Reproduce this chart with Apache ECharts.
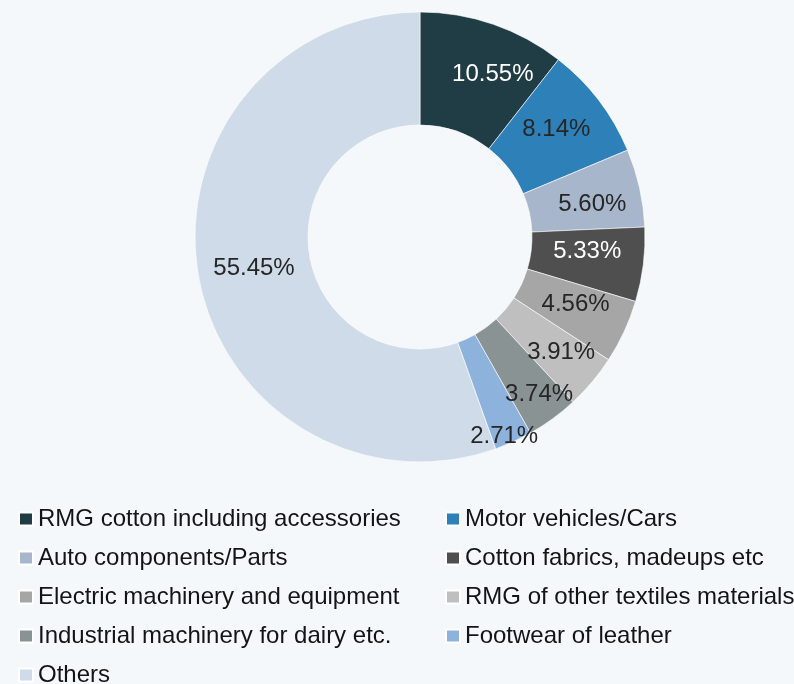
<!DOCTYPE html>
<html>
<head>
<meta charset="utf-8">
<script src="https://cdn.jsdelivr.net/npm/echarts@6/dist/echarts.min.js"></script>
<style>
html,body{margin:0;padding:0;background:#f5f8fa;}
#chart{width:794px;height:684px;}
</style>
</head>
<body>
<div id="chart"></div>
<script>
var categories = [
  "RMG cotton including accessories",
  "Motor vehicles/Cars",
  "Auto components/Parts",
  "Cotton fabrics, madeups etc",
  "Electric machinery and equipment",
  "RMG of other textiles materials",
  "Industrial machinery for dairy etc.",
  "Footwear of leather",
  "Others"
];
var shares = [10.55, 8.14, 5.60, 5.33, 4.56, 3.91, 3.74, 2.71, 55.45];
var legendLeft = [categories[0], categories[2], categories[4], categories[6], categories[8]];
var legendRight = [categories[1], categories[3], categories[5], categories[7]];

var colors = ["#203d45", "#2e80b9", "#a7b6ca", "#4f4f4f", "#a6a6a6", "#bfbfbf", "#8a9393", "#8db3dd", "#cfdbe9"];
var labelColors = ["#ffffff", "#262626", "#262626", "#ffffff", "#262626", "#262626", "#262626", "#262626", "#262626"];
// label nudges (style only), in pixels
var labelNudge = [[17, 0], [0, -4], [5, 5], [-3, -7], [0, -5], [10, 5], [18, 19], [13, 43], [3, 2]];

var chart = echarts.init(document.getElementById('chart'), null, {renderer: 'canvas'});
var legendCommon = {
  orient: 'vertical',
  itemWidth: 14,
  itemHeight: 13,
  itemGap: 15,
  height: 240,
  icon: 'rect',
  textStyle: {fontFamily: 'Liberation Sans, Arial, sans-serif', fontSize: 24, color: '#141414'},
  padding: 0
};
chart.setOption({
  backgroundColor: '#f5f8fa',
  animation: false,
  color: colors,
  legend: [
    Object.assign({}, legendCommon, {left: 18, top: 507, data: legendLeft}),
    Object.assign({}, legendCommon, {left: 445, top: 507, data: legendRight})
  ],
  series: [{
    type: 'pie',
    center: [420, 237],
    radius: [112, 225],
    startAngle: 90,
    clockwise: true,
    avoidLabelOverlap: false,
    itemStyle: {borderColor: '#ffffff', borderWidth: 0.6},
    label: {
      show: true,
      position: 'inside',
      fontFamily: 'Liberation Sans, Arial, sans-serif',
      fontSize: 24,
      formatter: function(p) { return shares[p.dataIndex].toFixed(2) + '%'; }
    },
    labelLine: {show: false},
    labelLayout: function(p) {
      var n = labelNudge[p.dataIndex];
      return {dx: n[0], dy: n[1]};
    },
    emphasis: {disabled: true},
    data: categories.map(function(c, i) {
      return {name: c, value: shares[i], label: {color: labelColors[i]}};
    })
  }]
});
</script>
</body>
</html>
